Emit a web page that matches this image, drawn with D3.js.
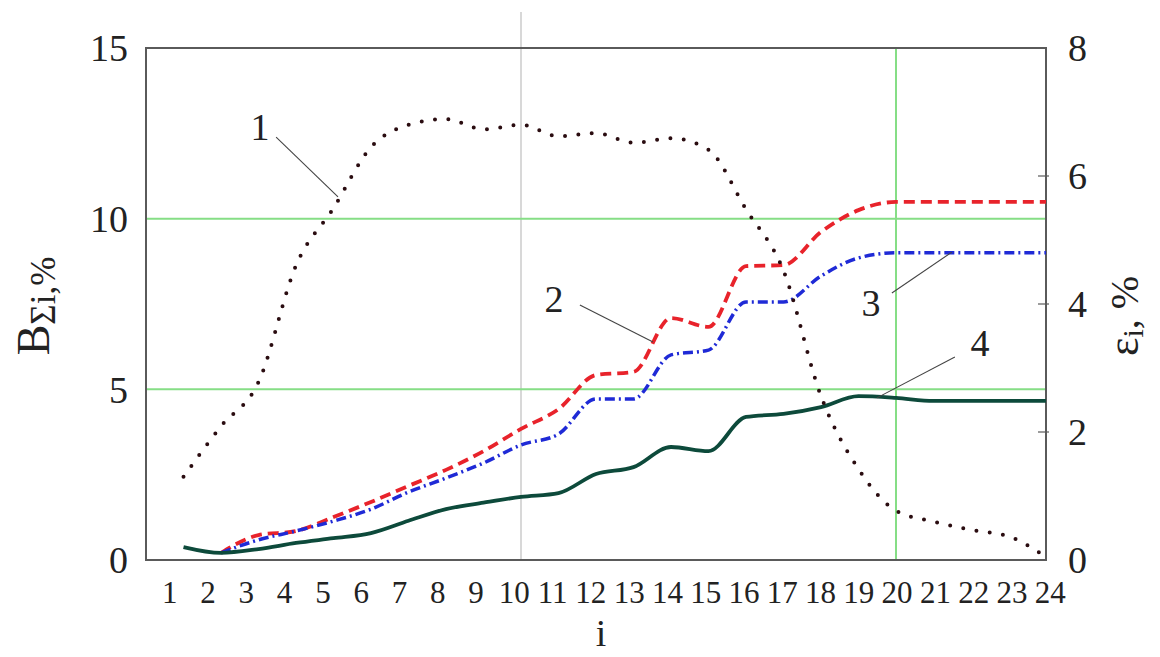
<!DOCTYPE html>
<html>
<head>
<meta charset="utf-8">
<script src="https://cdn.jsdelivr.net/npm/d3@7"></script>
<style>
  html, body { margin: 0; padding: 0; background: #fff; }
  svg { display: block; }
  text { font-family: "Liberation Serif", "Times New Roman", serif; fill: #222; }
</style>
</head>
<body>
<svg id="chart" width="1160" height="657"></svg>
<script>
// ---------------- data ----------------
const categories = [1,2,3,4,5,6,7,8,9,10,11,12,13,14,15,16,17,18,19,20,21,22,23,24];
// curve 1 : eps_i, % (right axis)
const curve1 = [1.30,2.09,2.78,4.60,5.50,6.45,6.80,6.89,6.73,6.80,6.62,6.67,6.52,6.59,6.41,5.48,4.52,2.56,1.42,0.77,0.60,0.47,0.37,0.05];
// curves 2,3,4 : B_Σi, % (left axis); null = no value
const curve2 = [null,0.21,0.73,0.85,1.26,1.70,2.17,2.64,3.19,3.84,4.42,5.42,5.51,7.09,6.83,8.61,8.64,9.61,10.25,10.49,10.49,10.49,10.49,10.49];
const curve3 = [null,0.21,0.59,0.85,1.14,1.49,1.99,2.40,2.84,3.37,3.69,4.72,4.72,6.01,6.15,7.56,7.56,8.32,8.85,9.00,9.00,9.00,9.00,9.00];
const curve4 = [0.38,0.21,0.32,0.50,0.64,0.79,1.15,1.49,1.68,1.85,1.96,2.52,2.72,3.31,3.19,4.19,4.28,4.48,4.80,4.75,4.66,4.66,4.66,4.66];
const leftTicks = [0,5,10,15];
const rightTicks = [0,2,4,6,8];
const rightTickMarks = [2,4,6];
const gridB = [5,10];          // horizontal green lines (left-axis units)
const gridGreenI = [20];       // vertical green line
const gridGrayI = [10];        // vertical gray line
// annotation labels in (i, B) units
const annLabels = ["1","2","3","4"];
const annTextI = [3.04,10.88,19.33,22.24];
const annTextB = [12.31,7.27,7.15,5.98];
const annFromI = [3.47,11.57,19.89,21.57];
const annFromB = [12.39,7.47,7.82,5.95];
const annToI = [5.12,13.52,21.49,19.49];
const annToB = [10.64,6.39,9.02,4.75];

// ---------------- layout ----------------
const svg = d3.select("#chart");
const L = 146, R = 1046, T = 48, B = 560;
const x = d3.scaleLinear().domain([0,24]).range([L,R]);
const xLab = d3.scaleLinear().domain([1,24]).range([x(0.62), x(24.1)]);
const yL = d3.scaleLinear().domain([0,15]).range([B,T]);
const yR = d3.scaleLinear().domain([0,8]).range([B,T]);

// grid
svg.selectAll("line.gray").data(gridGrayI).join("line")
  .attr("x1", d=>x(d)).attr("x2", d=>x(d)).attr("y1", 12).attr("y2", B)
  .attr("stroke", "#cfcfcf").attr("stroke-width", 1.6);
svg.selectAll("line.gh").data(gridB).join("line")
  .attr("x1", L).attr("x2", R).attr("y1", d=>yL(d)).attr("y2", d=>yL(d))
  .attr("stroke", "#86de86").attr("stroke-width", 2);
svg.selectAll("line.gv").data(gridGreenI).join("line")
  .attr("x1", d=>x(d)).attr("x2", d=>x(d)).attr("y1", T).attr("y2", B)
  .attr("stroke", "#86de86").attr("stroke-width", 2);

// frame
svg.append("rect").attr("x", L).attr("y", T).attr("width", R-L).attr("height", B-T)
  .attr("fill", "none").attr("stroke", "#5a5a5a").attr("stroke-width", 2);

// axes
const axL = svg.append("g").attr("transform", `translate(${L},0)`)
  .call(d3.axisLeft(yL).tickValues(leftTicks).tickSize(0).tickPadding(18));
axL.select(".domain").remove();
axL.selectAll("text").style("font-size", "38px").attr("dy", "0.34em");

const axR = svg.append("g").attr("transform", `translate(${R},0)`)
  .call(d3.axisRight(yR).tickValues(rightTicks).tickSize(0).tickPadding(22));
axR.select(".domain").remove();
axR.selectAll("text").style("font-size", "38px").attr("dy", "0.34em");
svg.selectAll("line.rt").data(rightTickMarks).join("line")
  .attr("x1", R-8).attr("x2", R+3).attr("y1", d=>yR(d)).attr("y2", d=>yR(d))
  .attr("stroke", "#5a5a5a").attr("stroke-width", 1.2);

const axB = svg.append("g").attr("transform", `translate(0,${B})`)
  .call(d3.axisBottom(xLab).tickValues(categories).tickSize(0).tickPadding(21).tickFormat(d3.format("d")));
axB.select(".domain").remove();
axB.selectAll("text").style("font-size", "31px").attr("fill", "#1e1e1e");

// axis titles
svg.append("text").attr("x", 601).attr("y", 646).attr("text-anchor", "middle")
  .style("font-size", "38px").text("i");

const tl = svg.append("text").attr("transform", "translate(49,306) rotate(-90)")
  .attr("text-anchor", "middle");
tl.append("tspan").style("font-size", "46px").text("B");
tl.append("tspan").style("font-size", "35px").attr("dy", 6).text("Σi,");
tl.append("tspan").style("font-size", "35px").text("%");

const tr = svg.append("text").attr("transform", "translate(1138,316) rotate(-90)")
  .attr("text-anchor", "middle");
tr.append("tspan").style("font-size", "44px").text("ε");
tr.append("tspan").style("font-size", "30px").attr("dy", 5).text("i");
tr.append("tspan").style("font-size", "40px").attr("dy", -5).text(", %");

// lines
const lineL = d3.line().defined(d=>d[1]!=null).x(d=>x(d[0])).y(d=>yL(d[1])).curve(d3.curveMonotoneX);
const lineR = d3.line().x(d=>x(d[0])).y(d=>yR(d[1])).curve(d3.curveMonotoneX);
const pts = arr => categories.map((c,k)=>[c, arr[k]]);

svg.append("path").attr("d", lineL(pts(curve2))).attr("fill","none")
  .attr("stroke", "#e8232b").attr("stroke-width", 3.8).attr("stroke-dasharray", "11,6");
svg.append("path").attr("d", lineL(pts(curve3))).attr("fill","none")
  .attr("stroke", "#1f2ad6").attr("stroke-width", 3.5).attr("stroke-dasharray", "10,4,2,4");
svg.append("path").attr("d", lineL(pts(curve4))).attr("fill","none")
  .attr("stroke", "#0d4a3b").attr("stroke-width", 3.8).attr("stroke-linejoin","round");
svg.append("path").attr("d", lineR(pts(curve1))).attr("fill","none")
  .attr("stroke", "#2a0c10").attr("stroke-width", 4).attr("stroke-linecap","round")
  .attr("stroke-dasharray", "0,13.4");

// annotations
const ann = annLabels.map((t,k)=>({t, ti:annTextI[k], tb:annTextB[k], fi:annFromI[k], fb:annFromB[k], oi:annToI[k], ob:annToB[k]}));
svg.selectAll("line.ann").data(ann).join("line")
  .attr("x1", d=>x(d.fi)).attr("y1", d=>yL(d.fb)).attr("x2", d=>x(d.oi)).attr("y2", d=>yL(d.ob))
  .attr("stroke", "#444").attr("stroke-width", 1.1);
svg.selectAll("text.ann").data(ann).join("text")
  .attr("x", d=>x(d.ti)).attr("y", d=>yL(d.tb)).attr("text-anchor","middle")
  .style("font-size", "38px").text(d=>d.t);
</script>
</body>
</html>
